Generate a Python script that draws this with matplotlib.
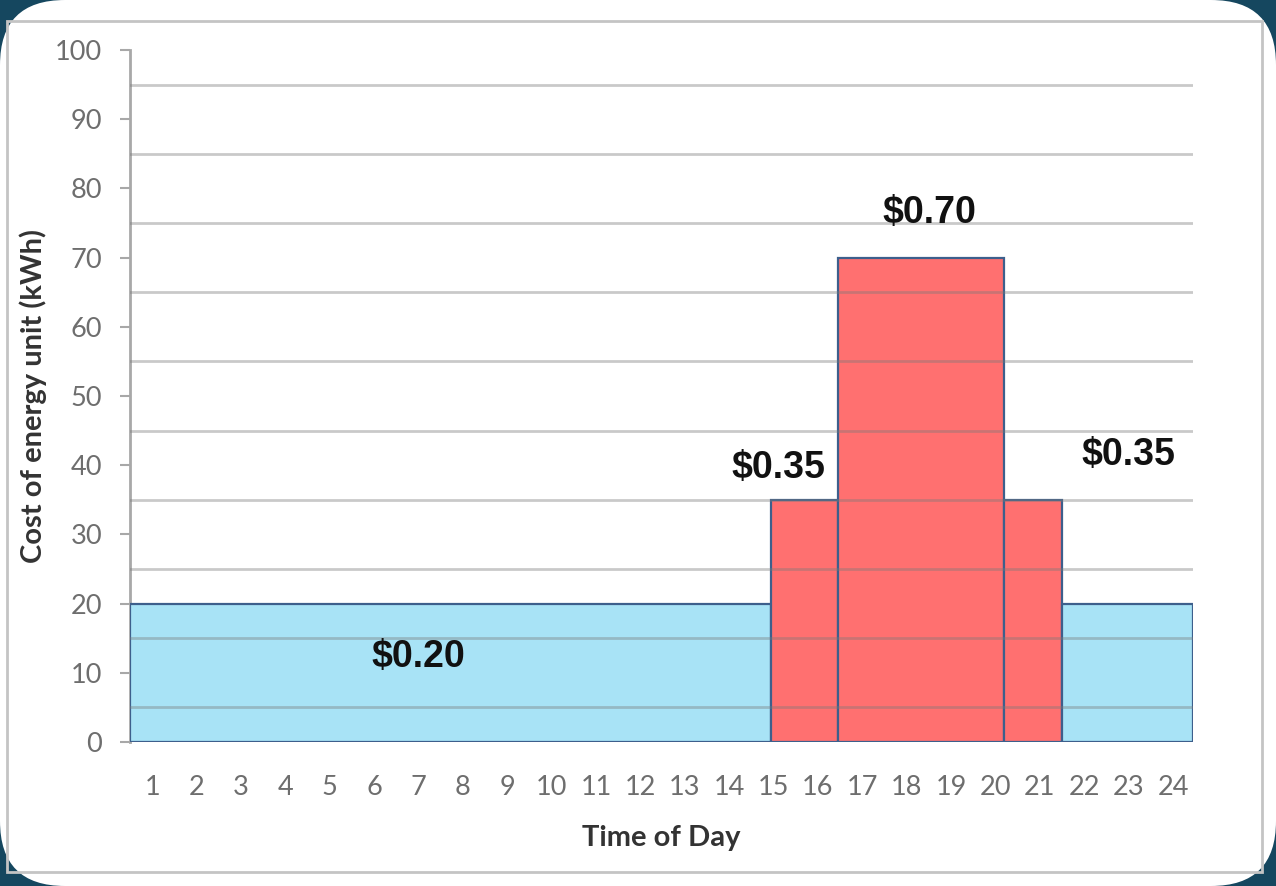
import matplotlib
matplotlib.use('Agg')
import matplotlib.pyplot as plt
from matplotlib.patches import FancyBboxPatch, Rectangle

# hour ticks and tariff blocks (edges in hours)
hours = list(range(1, 25))
block_start = [0.5, 14.95, 16.45, 20.2, 21.5]
block_end = [14.95, 16.45, 20.2, 21.5, 24.45]
block_cost = [20, 35, 70, 35, 20]
block_tier = ['off', 'peak', 'peak', 'peak', 'off']
price_text = ['$0.20', '$0.35', '$0.70', '$0.35']
price_x = [7.0, 15.1, 18.5, 23.0]
price_y = [12.3, 39.6, 76.4, 41.5]

fill = {'off': '#a8e3f6', 'peak': '#ff7070'}
edge = '#3d5f8c'

W, H = 1276, 886
fig = plt.figure(figsize=(W / 100, H / 100), dpi=100)
fig.patch.set_facecolor('#15475f')

# rounded white slide panel + grey picture frame
bg = fig.add_axes([0, 0, 1, 1])
bg.set_xlim(0, W)
bg.set_ylim(H, 0)
bg.axis('off')
bg.add_patch(FancyBboxPatch((0, 0), W, H, boxstyle='round,pad=0,rounding_size=65',
                            fc='white', ec='none'))
bg.add_patch(Rectangle((7, 21), 1255, 851, fc='none', ec='#c4c4c4', lw=2))

ax = fig.add_axes([130 / W, 144 / H, 1063 / W, 692 / H])
ax.set_facecolor('none')
for s, e, c, t in zip(block_start, block_end, block_cost, block_tier):
	ax.bar(s, c, width=e - s, align='edge', color=fill[t], edgecolor=edge,
	       linewidth=1.6, zorder=2)

# grid at the odd fives, drawn over the bars
for g in range(5, 100, 10):
	ax.axhline(g, color='#7a7a7a', alpha=0.4, lw=2, zorder=3)

for txt, x, y in zip(price_text, price_x, price_y):
	ax.text(x, y, txt, ha='center', va='center', fontsize=27, fontweight='bold',
	        family='Liberation Sans', color='#111111', zorder=4)

ax.set_xlim(0.5, 24.45)
ax.set_ylim(0, 100)
ax.set_xticks(hours)
ax.set_yticks(range(0, 101, 10))
for lab in ax.get_xticklabels() + ax.get_yticklabels():
	lab.set_family('Lato')
ax.tick_params(axis='x', length=0, pad=24, labelsize=19.5, labelcolor='#6e6e6e')
ax.tick_params(axis='y', length=7, width=1.5, color='#a8a8a8', pad=13,
               labelsize=19.5, labelcolor='#6e6e6e')

for side in ['top', 'right', 'bottom']:
	ax.spines[side].set_visible(False)
ax.spines['left'].set_color('#a8a8a8')
ax.spines['left'].set_linewidth(2)
ax.spines['left'].set_zorder(1)

ax.set_ylabel('Cost of energy unit (kWh)', family='Lato', fontweight='bold',
              fontsize=21, color='#333333')
ax.yaxis.set_label_coords(-0.078, 0.5)
ax.set_xlabel('Time of Day', family='Lato', fontweight='bold', fontsize=21,
              color='#333333')
ax.xaxis.set_label_coords(0.5, -0.12)

fig.savefig('out.png', dpi=100, facecolor=fig.get_facecolor())
